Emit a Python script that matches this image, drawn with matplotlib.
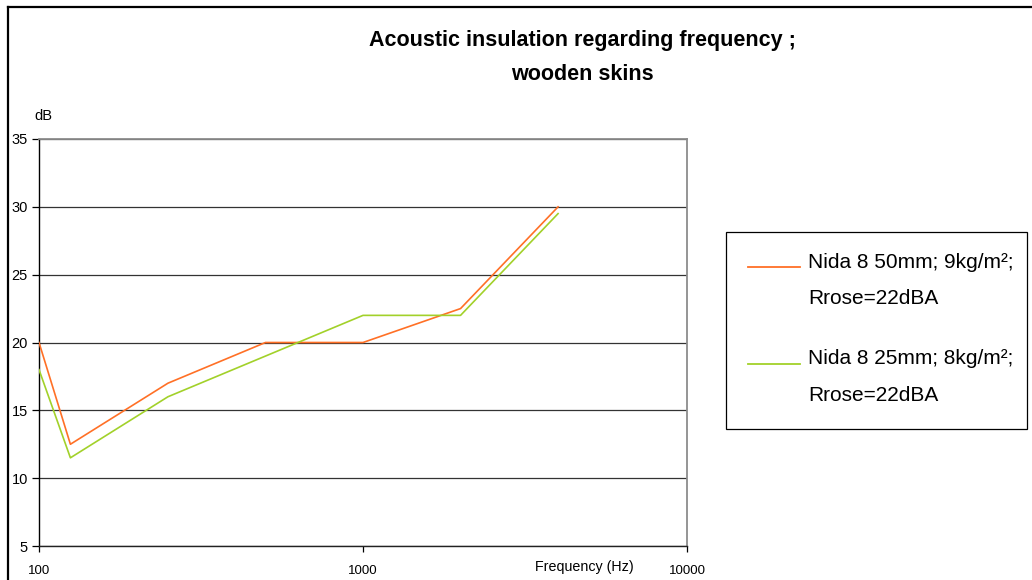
import matplotlib
matplotlib.use("Agg")
import matplotlib.pyplot as plt
from matplotlib.lines import Line2D
from matplotlib.patches import Rectangle

plt.rcParams["font.family"] = ["Liberation Sans", "DejaVu Sans"]

# Data
freq_hz = [100, 125, 250, 500, 1000, 2000, 4000]
nida_50mm = [20, 12.5, 17, 20, 20, 22.5, 30]
nida_25mm = [18, 11.5, 16, 19, 22, 22, 29.5]
labels = ["Nida 8 50mm; 9kg/m²;\nRrose=22dBA",
          "Nida 8 25mm; 8kg/m²;\nRrose=22dBA"]
y_ticks = [5, 10, 15, 20, 25, 30, 35]
x_ticks = [100, 1000, 10000]

ORANGE = "#FF7026"
GREEN = "#A2D12A"

W, H = 1032, 580
fig = plt.figure(figsize=(W / 100, H / 100), dpi=100)
fig.patch.set_facecolor("white")


def px(x0, y0, x1, y1):
    """pixel box (top-left origin) -> figure fraction rect"""
    return [x0 / W, 1 - y1 / H, (x1 - x0) / W, (y1 - y0) / H]


def fy(y):
    return 1 - y / H


# outer chart frame (only left + top edges are inside the image)
fig.add_artist(Line2D([8 / W, 8 / W], [0, fy(7)], color="black",
                      linewidth=1.6, transform=fig.transFigure))
fig.add_artist(Line2D([8 / W, 1], [fy(7), fy(7)], color="black",
                      linewidth=1.6, transform=fig.transFigure))

ax = fig.add_axes(px(39, 139, 687, 546))
ax.set_xscale("log")
ax.set_xlim(100, 10000)
ax.set_ylim(5, 35)

l1, = ax.plot(freq_hz, nida_50mm, color=ORANGE, linewidth=1.2, zorder=3)
l2, = ax.plot(freq_hz, nida_25mm, color=GREEN, linewidth=1.2, zorder=3)

ax.set_yticks(y_ticks)
ax.set_yticklabels([str(v) for v in y_ticks], fontsize=10.5)
ax.set_xticks(x_ticks)
ax.set_xticklabels([str(v) for v in x_ticks], fontsize=9.5)
ax.xaxis.set_minor_locator(matplotlib.ticker.NullLocator())
ax.tick_params(axis="y", direction="out", length=5, width=0.9, pad=3,
               color="black")
ax.tick_params(axis="x", direction="out", length=4, width=0.9, pad=10,
               color="black")
ax.grid(axis="y", color="#333333", linewidth=0.9, zorder=1)

for side in ("top", "right"):
    ax.spines[side].set_color("#8c8c8c")
    ax.spines[side].set_linewidth(1.3)
ax.spines["left"].set_color("black")
ax.spines["bottom"].set_color("#222222")
ax.spines["left"].set_linewidth(1.0)
ax.spines["bottom"].set_linewidth(1.0)

fig.text(34 / W, fy(116), "dB", fontsize=10.5, va="center", ha="left")
fig.text(584 / W, fy(567), "Frequency (Hz)", fontsize=10.3,
         va="center", ha="center")

# title
fig.text(582 / W, fy(46), "Acoustic insulation regarding frequency ;",
         fontsize=15.5, fontweight="bold", ha="center", va="baseline")
fig.text(582 / W, fy(80), "wooden skins",
         fontsize=15.5, fontweight="bold", ha="center", va="baseline")

# legend box drawn by hand to match the spreadsheet layout
fig.add_artist(Rectangle((726 / W, fy(429)), (1027 - 726) / W,
                         (429 - 232) / H, transform=fig.transFigure,
                         facecolor="white", edgecolor="black", linewidth=0.9))
for line, label, y in ((l1, labels[0], 267), (l2, labels[1], 364)):
    fig.add_artist(Line2D([748 / W, 800 / W], [fy(y), fy(y)],
                          color=line.get_color(), linewidth=1.3,
                          transform=fig.transFigure))
    for i, part in enumerate(label.split("\n")):
        fig.text(808 / W, fy(y + 0.5 + 36.5 * i), part, fontsize=15,
                 ha="left", va="baseline")

fig.savefig("out.png", dpi=100, facecolor="white")
